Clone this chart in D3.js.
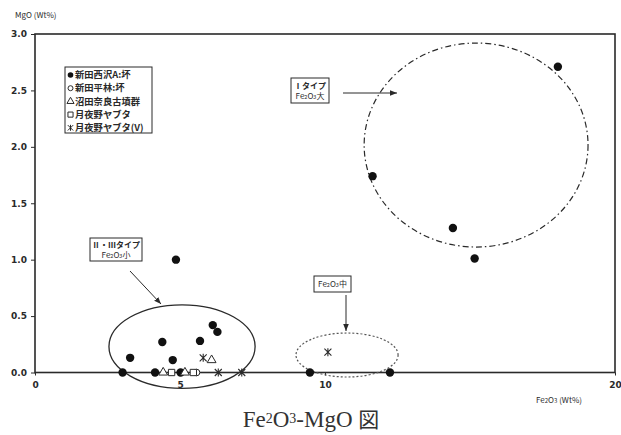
<!DOCTYPE html>
<html><head><meta charset="utf-8">
<script src="https://cdn.jsdelivr.net/npm/d3@7"></script>
<style>
html,body{margin:0;padding:0;background:#fff;}
svg{display:block;}
</style></head>
<body>
<script>
// ---- data (Fe2O3 wt%, MgO wt%) ----
const seriesNames = ["新田西沢A:坏", "新田平林:坏", "沼田奈良古墳群", "月夜野ヤブタ", "月夜野ヤブタ(V)"];
const filledCircle = [[3.02,0],[3.28,0.13],[4.14,0],[4.39,0.27],[4.75,0.11],[4.86,1.0],[5.02,0],[5.69,0.28],[6.13,0.42],[6.29,0.36],[9.48,0],[12.24,0],[11.64,1.74],[14.41,1.28],[15.16,1.01],[18.03,2.71]];
const openCircle = [[5.57,0]];
const openTriangle = [[4.42,0],[5.17,0],[6.09,0.11]];
const openSquare = [[4.71,0],[5.46,0]];
const asterisk = [[5.80,0.13],[6.32,0],[7.13,0],[10.1,0.18]];
const xTicks = [0,5,10,20];
const yTicks = [0,0.5,1.0,1.5,2.0,2.5,3.0];
// group ellipses: [cx, cy, rx, ry] in data units
const groupEllipses = [[5.07,0.23,2.52,0.37],[10.76,0.155,1.76,0.195],[15.21,2.016,3.86,0.904]];
const groupLabels = [["Ⅱ・Ⅲタイプ","小"],["","中"],["Ⅰタイプ","大"]];

const W = 621, H = 435;
const svg = d3.select("body").append("svg").attr("width", W).attr("height", H);
const x = d3.scaleLinear().domain([0,20]).range([35,615]);
const y = d3.scaleLinear().domain([0,3]).range([372.5,34]);
const ink = "#2a2a2a";
const sans = "'Noto Sans CJK JP', 'DejaVu Sans', sans-serif";

svg.append("defs").append("marker").attr("id","ah").attr("viewBox","0 0 10 10")
  .attr("refX",10).attr("refY",5).attr("markerWidth",7).attr("markerHeight",7).attr("orient","auto")
  .append("path").attr("d","M0,1 L10,5 L0,9 Z").attr("fill",ink);

// frame
svg.append("rect").attr("x",x(0)).attr("y",y(3)).attr("width",x(20)-x(0)).attr("height",y(0)-y(3))
  .attr("fill","none").attr("stroke",ink).attr("stroke-width",1.6);

// axes
const yAx = svg.append("g").attr("transform",`translate(${x(0)},0)`)
  .call(d3.axisLeft(y).tickValues(yTicks).tickFormat(d3.format(".1f")).tickSize(4).tickPadding(4));
const xAx = svg.append("g").attr("transform",`translate(0,${y(0)})`)
  .call(d3.axisBottom(x).tickValues(xTicks).tickFormat(d3.format("d")).tickSize(3).tickPadding(6));
[yAx,xAx].forEach(g=>{
  g.select(".domain").remove();
  g.selectAll("line").attr("stroke",ink);
  g.selectAll("text").attr("fill",ink).style("font-family","'DejaVu Sans', sans-serif").style("font-size","9px").style("font-weight","bold");
});

// axis titles
svg.append("text").attr("x",15).attr("y",18).attr("fill",ink)
  .style("font-family",sans).style("font-size","8px").text("MgO (Wt%)");
const xt = svg.append("text").attr("x",536).attr("y",403).attr("fill",ink)
  .style("font-family",sans).style("font-size","8px");
xt.append("tspan").text("Fe");
xt.append("tspan").attr("font-size","6px").text("2");
xt.append("tspan").text("O");
xt.append("tspan").attr("font-size","6px").text("3");
xt.append("tspan").text(" (Wt%)");

// ellipses
const ellStyles = [{dash:null},{dash:"2,2"},{dash:"6,3,1.5,3"}];
svg.selectAll("ellipse.grp").data(groupEllipses).join("ellipse").attr("class","grp")
  .attr("cx",d=>x(d[0])).attr("cy",d=>y(d[1]))
  .attr("rx",d=>x(d[2])-x(0)).attr("ry",d=>y(0)-y(d[3]))
  .attr("fill","none").attr("stroke",(d,i)=>i==1?"#555":ink).attr("stroke-width",(d,i)=>i==0?1.3:1.2)
  .attr("stroke-dasharray",(d,i)=>ellStyles[i].dash);

// annotation boxes
function feLabel(g, tx, ty, suffix){
  const t = g.append("text").attr("x",tx).attr("y",ty).attr("text-anchor","middle").attr("fill",ink)
    .style("font-family",sans).style("font-size","8px");
  t.append("tspan").text("Fe");
  t.append("tspan").attr("font-size","5.5px").text("2");
  t.append("tspan").text("O");
  t.append("tspan").attr("font-size","5.5px").text("3");
  t.append("tspan").text(suffix);
}
function box(bx,by,bw,bh,line1,suffix){
  const g = svg.append("g");
  g.append("rect").attr("x",bx).attr("y",by).attr("width",bw).attr("height",bh)
    .attr("fill","#fff").attr("stroke",ink).attr("stroke-width",1);
  if(line1){
    g.append("text").attr("x",bx+bw/2).attr("y",by+bh/2-2).attr("text-anchor","middle").attr("fill",ink)
      .style("font-family",sans).style("font-size","8px").style("font-weight","bold").text(line1);
    feLabel(g,bx+bw/2,by+bh/2+8.5,suffix);
  } else {
    feLabel(g,bx+bw/2,by+bh/2+3,suffix);
  }
}
box(90,238,52,23,groupLabels[0][0],groupLabels[0][1]);
box(314,276,37,16,groupLabels[1][0],groupLabels[1][1]);
box(291,78,38,25,groupLabels[2][0],groupLabels[2][1]);

// arrows
const arrows = [[130,271,161,304],[346,295,346,331],[343,93,397,93]];
svg.selectAll("line.arr").data(arrows).join("line").attr("class","arr")
  .attr("x1",d=>d[0]).attr("y1",d=>d[1]).attr("x2",d=>d[2]).attr("y2",d=>d[3])
  .attr("stroke",ink).attr("stroke-width",1).attr("marker-end","url(#ah)");

// marks
const pt = d=>`translate(${x(d[0])},${y(d[1])})`;
svg.selectAll("circle.f").data(filledCircle).join("circle").attr("class","f")
  .attr("cx",d=>x(d[0])).attr("cy",d=>y(d[1])).attr("r",4.2).attr("fill","#111");
svg.selectAll("circle.o").data(openCircle).join("circle").attr("class","o")
  .attr("cx",d=>x(d[0])).attr("cy",d=>y(d[1])).attr("r",3.3).attr("fill","#fff").attr("stroke",ink).attr("stroke-width",1);
svg.selectAll("path.t").data(openTriangle).join("path").attr("class","t")
  .attr("transform",pt).attr("d",d3.symbol(d3.symbolTriangle,34)()).attr("fill","#fff").attr("stroke",ink).attr("stroke-width",1);
svg.selectAll("path.s").data(openSquare).join("path").attr("class","s")
  .attr("transform",pt).attr("d",d3.symbol(d3.symbolSquare,40)()).attr("fill","#fff").attr("stroke",ink).attr("stroke-width",1);
const astPath = "M-3.5,-3.5L3.5,3.5M3.5,-3.5L-3.5,3.5M0,-4L0,4";
svg.selectAll("path.a").data(asterisk).join("path").attr("class","a")
  .attr("transform",pt).attr("d",astPath).attr("fill","none").attr("stroke",ink).attr("stroke-width",1.1);

// legend
const lg = svg.append("g");
lg.append("rect").attr("x",65).attr("y",67).attr("width",87).attr("height",66).attr("fill","#fff").attr("stroke",ink).attr("stroke-width",1);
const sym = [
  g=>g.append("circle").attr("r",2.8).attr("fill","#111"),
  g=>g.append("circle").attr("r",2.5).attr("fill","#fff").attr("stroke",ink).attr("stroke-width",1),
  g=>g.append("path").attr("d",d3.symbol(d3.symbolTriangle,22)()).attr("fill","#fff").attr("stroke",ink).attr("stroke-width",1),
  g=>g.append("path").attr("d",d3.symbol(d3.symbolSquare,26)()).attr("fill","#fff").attr("stroke",ink).attr("stroke-width",1),
  g=>g.append("path").attr("d","M-2.7,-2.7L2.7,2.7M2.7,-2.7L-2.7,2.7M0,-3L0,3").attr("fill","none").attr("stroke",ink).attr("stroke-width",1)
];
seriesNames.forEach((n,i)=>{
  const row = lg.append("g").attr("transform",`translate(70.5,${75+i*13.2})`);
  sym[i](row);
  row.append("text").attr("x",4.5).attr("y",3.2).attr("fill",ink)
    .style("font-family",sans).style("font-size","9.3px").style("font-weight","bold").text(n);
});

// title
const tt = svg.append("text").attr("x",311).attr("y",427).attr("text-anchor","middle").attr("fill","#333")
  .style("font-family","'Liberation Serif','DejaVu Serif',serif").style("font-size","23px");
tt.append("tspan").text("Fe");
tt.append("tspan").attr("font-size","14px").attr("dy","-4").text("2");
tt.append("tspan").attr("dy","4").text("O");
tt.append("tspan").attr("font-size","14px").attr("dy","-4").text("3");
tt.append("tspan").attr("dy","4").text("-MgO ");
tt.append("tspan").style("font-family","'Noto Sans CJK JP',sans-serif").style("font-size","21px").text("図");
</script>
</body></html>
